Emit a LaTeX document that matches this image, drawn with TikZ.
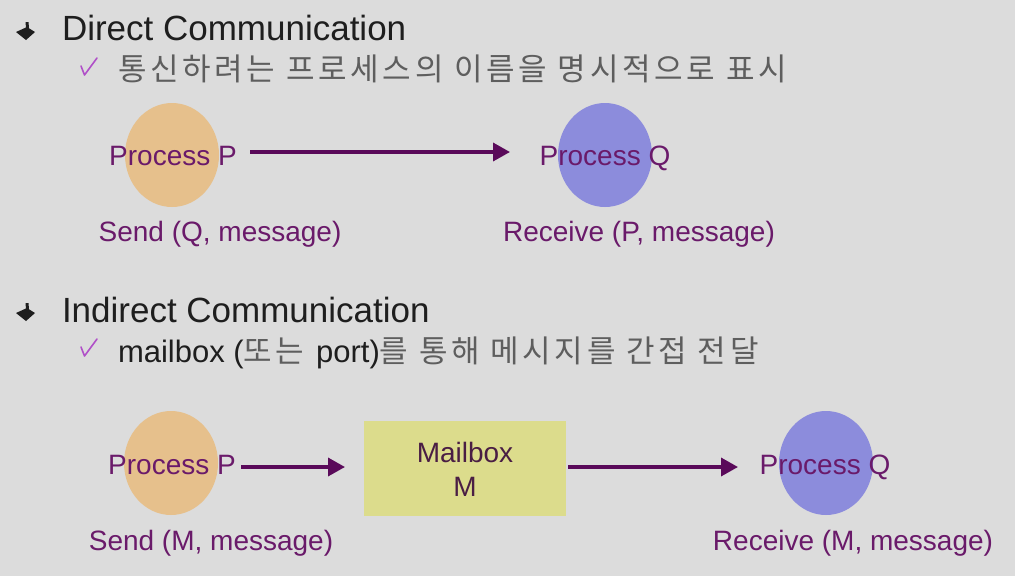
\documentclass[tikz,border=0pt]{standalone}
\usepackage{fontspec}
\setmainfont{Liberation Sans}
\newfontfamily\kr[LetterSpace=12]{Noto Sans CJK KR}
\usetikzlibrary{arrows.meta,shapes.geometric}
\definecolor{bgc}{HTML}{DCDCDC}
\definecolor{orangec}{HTML}{E6C08C}
\definecolor{bluec}{HTML}{8C8CDC}
\definecolor{mailc}{HTML}{DCDC8C}
\definecolor{purp}{HTML}{6A1A6A}
\definecolor{arrc}{HTML}{5A0A5A}
\definecolor{checkc}{HTML}{B050C8}
\definecolor{kgray}{HTML}{5E5E5E}
\definecolor{headc}{HTML}{1E1E1E}
\definecolor{mbtext}{HTML}{4A1E44}
\tikzset{
  procP/.style={ellipse, fill=orangec, minimum width=94pt, minimum height=104pt},
  procQ/.style={ellipse, fill=bluec, minimum width=94pt, minimum height=104pt},
  mailbox/.style={rectangle, fill=mailc, minimum width=202pt, minimum height=95pt},
  plabel/.style={font=\fontsize{28}{30}\selectfont, text=purp, anchor=base},
  heading/.style={font=\fontsize{35}{38}\selectfont, text=headc, anchor=base west},
  subline/.style={font=\fontsize{31}{34}\selectfont, text=headc, anchor=base west},
  arr/.style={draw=arrc, line width=3.5pt, -{Triangle[length=17pt,width=18pt]}},
  bulletmark/.style={fill=headc},
  checkmark/.style={draw=checkc, line width=1.6pt, line cap=round, line join=round}
}
\begin{document}
\begin{tikzpicture}[x=1pt,y=-1pt, every node/.style={inner sep=0pt, outer sep=0pt}]
\fill[bgc] (0,0) rectangle (1015,576);
\useasboundingbox (0,0) rectangle (1015,576);

% bullets
\foreach \yy in {32,313}{
  \fill[bulletmark] (25.5,\yy-10) -- (28.5,\yy-10) -- (29,\yy-4) -- (26,\yy-4) -- cycle;
  \fill[bulletmark] (16,\yy) -- (27,\yy-5) -- (35,\yy) -- (26,\yy+8) -- cycle;
}
% check marks
\foreach \yy in {67,348}{
  \draw[checkmark] (81,\yy-1) -- (84.5,\yy+8) -- (97,\yy-9);
}

\node[heading] (h1) at (62,40) {Direct Communication};
\node[subline, text=kgray] (s1) at (118,80) {\kr 통신하려는 프로세스의 이름을 명시적으로 표시};

\node[procP] (pe1) at (172,155) {};
\node[procQ] (qe1) at (605,155) {};
\node[plabel] (p1) at (173,165) {Process P};
\node[plabel] (q1) at (605,165) {Process Q};
\node[plabel] (send1) at (220,241) {Send (Q, message)};
\node[plabel] (recv1) at (639,241) {Receive (P, message)};
\coordinate (a1s) at (250,152);
\coordinate (a1e) at (510,152);
\draw[arr] (a1s) -- (a1e);

\node[heading] (h2) at (62,322) {Indirect Communication};
\node[subline] (s2) at (118,362) {mailbox ({\kr\color{kgray}또는}\hspace{3pt} port){\kr\color{kgray}를 통해 메시지를 간접 전달}};

\node[procP] (pe2) at (171,463) {};
\node[mailbox] (mb) at (465,468.5) {};
\node[procQ] (qe2) at (826,463) {};
\node[plabel] (p2) at (172,474) {Process P};
\node[plabel, text=mbtext] (mbt) at (465,462) {Mailbox};
\node[plabel, text=mbtext] (mbm) at (465,496) {M};
\node[plabel] (q2) at (825,474) {Process Q};
\node[plabel] (send2) at (211,550) {Send (M, message)};
\node[plabel] (recv2) at (853,550) {Receive (M, message)};
\coordinate (a2s) at (241,467);
\coordinate (a3e) at (738,467);
\draw[arr] (a2s) -- ([xshift=-19pt]a2s -| mb.west);
\draw[arr] ([xshift=2pt]a2s -| mb.east) -- (a3e);
\end{tikzpicture}
\end{document}
